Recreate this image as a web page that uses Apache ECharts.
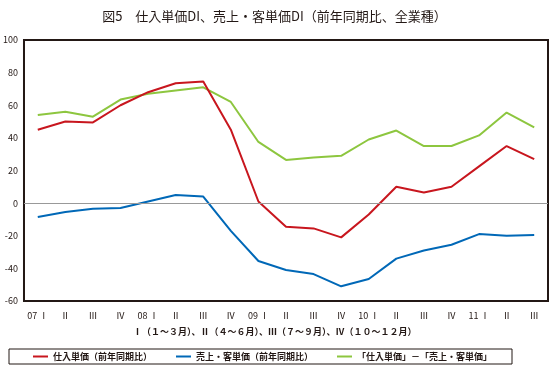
<!DOCTYPE html>
<html>
  <head>
    <meta charset="utf-8" />
    <title>ECharts</title>
    <script src="https://cdn.jsdelivr.net/npm/echarts@6/dist/echarts.min.js"></script>
  </head>
  <body style="margin: 0">
    <div id="main" style="width: 549px; height: 376px"></div>
  </body>

  <script>
    var myChart = echarts.init(document.getElementById("main"));

    // 四半期ラベル
    var quarters = ["07 Ⅰ", "Ⅱ", "Ⅲ", "Ⅳ", "08 Ⅰ", "Ⅱ", "Ⅲ", "Ⅳ", "09 Ⅰ", "Ⅱ", "Ⅲ", "Ⅳ", "10 Ⅰ", "Ⅱ", "Ⅲ", "Ⅳ", "11 Ⅰ", "Ⅱ", "Ⅲ"];
    var seriesNames = ["仕入単価（前年同期比）", "売上・客単価（前年同期比）", "「仕入単価」－「売上・客単価」"];
    var shiire = [45, 50, 49.5, 60, 68, 73.5, 74.5, 45, 1, -14.5, -15.5, -21, -7, 10, 6.5, 10, 22.5, 35, 27];
    var uriage = [-8.5, -5.5, -3.5, -3, 1, 5, 4, -17, -35.5, -41, -43.5, -51, -46.5, -34, -29, -25.5, -19, -20, -19.5];
    var sa = [54, 56, 53, 63.5, 67, 69, 71, 62, 37.5, 26.5, 28, 29, 39, 44.5, 35, 35, 41.5, 55.5, 46.5];

    var font = "'Noto Sans CJK JP', sans-serif";

    option = {
      backgroundColor: "#fff",
      textStyle: { fontFamily: font },
      title: [
        {
          text: "図5　仕入単価DI、売上・客単価DI（前年同期比、全業種）",
          left: "center",
          top: 5,
          textStyle: { fontSize: 13, fontWeight: "normal", color: "#231815", fontFamily: font },
        },
        {
          text: "Ⅰ（１～３月）、Ⅱ（４～６月）、Ⅲ（７～９月）、Ⅳ（１０～１２月）",
          left: 128,
          top: 322,
          textStyle: { fontSize: 9, fontWeight: "bold", color: "#231815", fontFamily: font },
        },
      ],
      legend: {
        left: 9,
        top: 349,
        padding: [3, 20, 3, 24],
        itemGap: 24,
        itemWidth: 15,
        itemHeight: 2,
        icon: "rect",
        borderColor: "#231815",
        borderWidth: 1,
        data: seriesNames,
        textStyle: { fontSize: 9, fontWeight: "bold", color: "#231815", fontFamily: font },
      },
      grid: {
        left: 22,
        right: 1,
        top: 40,
        bottom: 75,
        show: true,
        borderColor: "#231815",
        borderWidth: 2,
      },
      xAxis: {
        type: "category",
        data: quarters,
        boundaryGap: true,
        axisLine: { show: false },
        axisTick: { show: false },
        axisLabel: { fontSize: 9, color: "#231815", margin: 10, interval: 0 },
      },
      yAxis: {
        type: "value",
        min: -60,
        max: 100,
        interval: 20,
        axisLine: { show: true, lineStyle: { color: "#231815", width: 2 } },
        axisTick: { show: false },
        splitLine: { show: false },
        axisLabel: { fontSize: 9, color: "#231815", margin: 6 },
      },
      series: [
        {
          name: seriesNames[0],
          type: "line",
          data: shiire,
          symbol: "none",
          color: "#c8161e",
          lineStyle: { width: 2 },
          z: 3,
          markLine: {
            silent: true,
            symbol: "none",
            label: { show: false },
            lineStyle: { color: "#999", width: 1, type: "solid" },
            data: [{ yAxis: 0 }],
          },
        },
        {
          name: seriesNames[1],
          type: "line",
          data: uriage,
          symbol: "none",
          color: "#0068b7",
          lineStyle: { width: 2 },
          z: 3,
        },
        {
          name: seriesNames[2],
          type: "line",
          data: sa,
          symbol: "none",
          color: "#8dc63f",
          lineStyle: { width: 2 },
          z: 2,
        },
      ],
    };

    myChart.setOption(option);
  </script>
</html>
